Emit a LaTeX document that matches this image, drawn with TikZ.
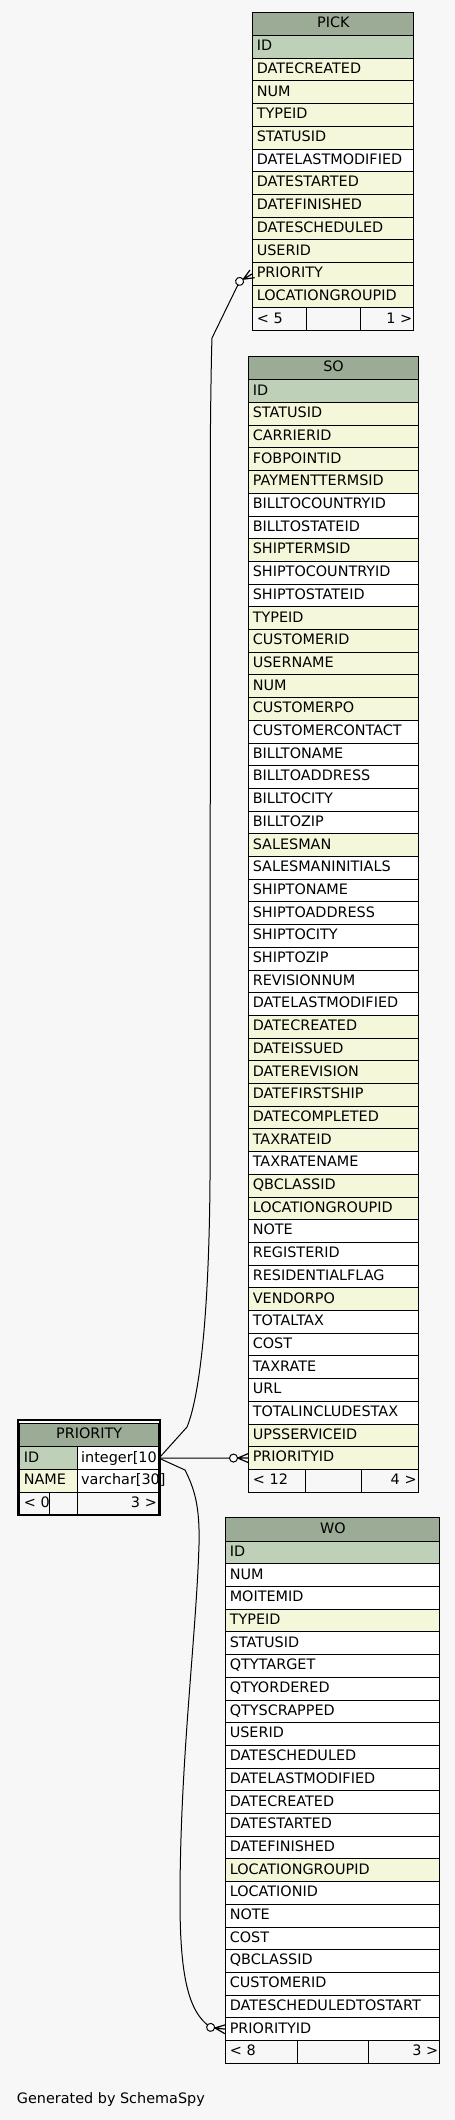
\documentclass[tikz,border=0pt]{standalone}
\usepackage{fontspec}
\setmainfont{DejaVu Sans}
\usetikzlibrary{calc}
\definecolor{bgc}{HTML}{F7F7F7}
\definecolor{hdrc}{HTML}{9BAB96}
\definecolor{pkc}{HTML}{BED1B8}
\definecolor{fkc}{HTML}{F4F7DA}
\definecolor{ncc}{HTML}{FFFFFF}
\definecolor{footc}{HTML}{F7F7F7}
\pgfdeclarelayer{bg}\pgfdeclarelayer{edges}\pgfsetlayers{bg,edges,main}
\newcommand\tabfont{\fontsize{14.4pt}{17pt}\selectfont}
\tikzset{
 cell/.style={rectangle, draw=black, line width=1pt, inner xsep=4pt, inner ysep=0pt,
   text height=15.2pt, text depth=7.5pt, align=left, font=\tabfont, anchor=north west},
 hdrcell/.style={cell, fill=hdrc, align=center, text height=15.3pt, text depth=8pt},
 rcell/.style={cell, align=right, inner xsep=1.5pt},
 edge/.style={draw=black, line width=1pt},
}
\newcommand\erdtable[9]{%
  \pgfmathsetmacro\tbtw{#3-#2-8}%
  \pgfmathsetmacro\tbfw{(#3-#2)/3}%
  \pgfmathsetmacro\tbfwa{\tbfw-8}%
  \pgfmathsetmacro\tbfwb{\tbfw-3}%
  \node[hdrcell, text width=\tbtw pt] (#1-h) at (#2,#4) {#5};
  \foreach \rtxt/\rcol [count=\ri] in {#7} {
    \node[cell, fill=\rcol, text width=\tbtw pt] (#1-\ri) at (#2, #4+23.3+\ri*22.7-22.7) {\mbox{\rtxt}};
  }
  \node[cell, fill=footc, text width=\tbfwa pt] (#1-fl) at (#2, #4+23.3+#6*22.7) {\mbox{#8}};
  \node[cell, fill=footc, text width=\tbfwa pt] (#1-fm) at (#2+\tbfw, #4+23.3+#6*22.7) {};
  \node[rcell, fill=footc, text width=\tbfwb pt] (#1-fr) at (#2+2*\tbfw, #4+23.3+#6*22.7) {\mbox{#9}};
}
\newcommand\crowpos[3]{%
  \begin{scope}[shift={(#1)}, rotate=#2]
    \coordinate (#3) at (-14.8,0);
  \end{scope}}
\newcommand\crowdraw[2]{%
  \begin{scope}[shift={(#1)}, rotate=#2]
    \draw[line width=1.2pt] (-10.5,0) -- (0,4.5) (-10.5,0) -- (0,0) (-10.5,0) -- (0,-4.5);
    \draw[line width=1pt, fill=white] (-14.8,0) circle[radius=4];
  \end{scope}}

\begin{document}
\begin{tikzpicture}[x=1pt,y=-1pt]
\begin{pgfonlayer}{bg}
\path[use as bounding box, fill=bgc] (0,0) rectangle (455,2120);
\end{pgfonlayer}

% PICK
\erdtable{pick}{252.3}{413.3}{11.7}{PICK}{12}{ID/pkc,DATECREATED/fkc,NUM/fkc,TYPEID/fkc,STATUSID/fkc,DATELASTMODIFIED/ncc,DATESTARTED/fkc,DATEFINISHED/fkc,DATESCHEDULED/fkc,USERID/fkc,PRIORITY/fkc,LOCATIONGROUPID/fkc}{< 5}{1 >}

% SO
\erdtable{so}{248.3}{417.7}{356}{SO}{48}{ID/pkc,STATUSID/fkc,CARRIERID/fkc,FOBPOINTID/fkc,PAYMENTTERMSID/fkc,BILLTOCOUNTRYID/ncc,BILLTOSTATEID/ncc,SHIPTERMSID/fkc,SHIPTOCOUNTRYID/ncc,SHIPTOSTATEID/ncc,TYPEID/fkc,CUSTOMERID/fkc,USERNAME/fkc,NUM/fkc,CUSTOMERPO/fkc,CUSTOMERCONTACT/ncc,BILLTONAME/ncc,BILLTOADDRESS/ncc,BILLTOCITY/ncc,BILLTOZIP/ncc,SALESMAN/fkc,SALESMANINITIALS/ncc,SHIPTONAME/ncc,SHIPTOADDRESS/ncc,SHIPTOCITY/ncc,SHIPTOZIP/ncc,REVISIONNUM/ncc,DATELASTMODIFIED/ncc,DATECREATED/fkc,DATEISSUED/fkc,DATEREVISION/fkc,DATEFIRSTSHIP/fkc,DATECOMPLETED/fkc,TAXRATEID/fkc,TAXRATENAME/ncc,QBCLASSID/fkc,LOCATIONGROUPID/fkc,NOTE/ncc,REGISTERID/ncc,RESIDENTIALFLAG/ncc,VENDORPO/fkc,TOTALTAX/ncc,COST/ncc,TAXRATE/ncc,URL/ncc,TOTALINCLUDESTAX/ncc,UPSSERVICEID/fkc,PRIORITYID/fkc}{< 12}{4 >}

% WO
\erdtable{wo}{225.3}{439.3}{1517.3}{WO}{22}{ID/pkc,NUM/ncc,MOITEMID/ncc,TYPEID/fkc,STATUSID/ncc,QTYTARGET/ncc,QTYORDERED/ncc,QTYSCRAPPED/ncc,USERID/ncc,DATESCHEDULED/ncc,DATELASTMODIFIED/ncc,DATECREATED/ncc,DATESTARTED/ncc,DATEFINISHED/ncc,LOCATIONGROUPID/fkc,LOCATIONID/ncc,NOTE/ncc,COST/ncc,QBCLASSID/ncc,CUSTOMERID/ncc,DATESCHEDULEDTOSTART/ncc,PRIORITYID/ncc}{< 8}{3 >}

% PRIORITY (focus table)
\draw[line width=2pt, fill=white] (17.7,1420.3) rectangle (159.7,1515);
\node[hdrcell, text width=130.7pt] (pri-h) at (19.3,1423) {PRIORITY};
\node[cell, fill=pkc, text width=49.4pt] (pri-idn) at (19.3,1446.3) {ID};
\node[cell, fill=ncc, text width=73.3pt] (pri-idt) at (76.7,1446.3) {\mbox{integer[10]}};
\node[cell, fill=fkc, text width=49.4pt] (pri-nmn) at (19.3,1469) {NAME};
\node[cell, fill=ncc, text width=73.3pt] (pri-nmt) at (76.7,1469) {\mbox{varchar[30]}};
\node[cell, fill=footc, text width=22pt] (pri-f1) at (19.3,1491.7) {\mbox{< 0}};
\node[cell, fill=footc, text width=19.4pt] (pri-f2) at (49.3,1491.7) {};
\node[rcell, fill=footc, text width=78.3pt] (pri-f3) at (76.7,1491.7) {\mbox{3 >}};

% connector ends
\crowpos{pick-11.west}{30.7}{pick-c}
\crowpos{so-48.west}{0}{so-c}
\crowpos{wo-22.west}{-7}{wo-c}

\begin{pgfonlayer}{edges}
\draw[edge] (pri-idt.east) -- (so-c);
\draw[edge] (pri-idt.east) -- (187,1427) .. controls (199,1398) and (209,1320) .. (210,1180)
   -- (210.5,420) .. controls (211,380) and (211.5,350) .. (212,338) -- (pick-c);
\draw[edge] (pri-idt.east) -- (185,1470) .. controls (194,1488) and (200,1505) .. (199,1545)
   .. controls (196,1640) and (180,1760) .. (180,1900) .. controls (180,1975) and (188,2012) .. (wo-c);
\end{pgfonlayer}

\crowdraw{pick-11.west}{30.7}
\crowdraw{so-48.west}{0}
\crowdraw{wo-22.west}{-7}

\node[font=\tabfont, anchor=base west, inner sep=0pt] (gen) at (16.7,2103.3) {Generated by SchemaSpy};
\end{tikzpicture}
\end{document}
